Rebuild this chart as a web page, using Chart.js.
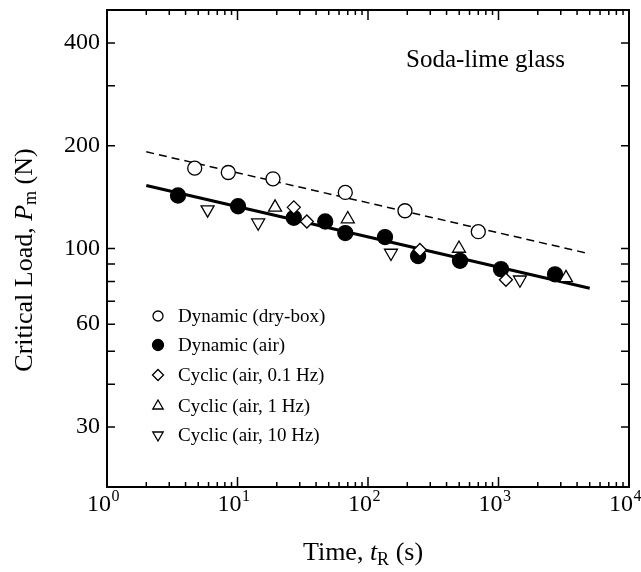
<!DOCTYPE html>
<html>
<head>
<meta charset="utf-8">
<script src="https://cdn.jsdelivr.net/npm/chart.js@4.4.0/dist/chart.umd.min.js"></script>
<style>
  body { margin: 0; background: #fff; }
  #wrap { width: 641px; height: 572px; }
</style>
</head>
<body>
<div id="wrap"><canvas id="myChart" width="641" height="572"></canvas></div>
<script>
// data (time in s, load in N)
const dryTime = [4.7, 8.5, 18.7, 67, 192, 700];
const dryLoad = [172, 167, 160, 146, 129, 112];

const airTime = [3.5, 10.1, 27, 47, 67, 135, 242, 507, 1045, 2710];
const airLoad = [143, 133, 123, 120, 111, 108, 95, 92, 87, 84];

const cyc01Time = [27, 34, 250, 1140];
const cyc01Load = [132, 120, 99, 81];

const cyc1Time = [19.4, 70, 498, 3290];
const cyc1Load = [132, 122, 100, 82];

const cyc10Time = [5.9, 14.4, 150, 1460];
const cyc10Load = [130, 119, 97, 81];

// fitted lines (end points)
const dryFitTime = [2, 5000];
const dryFitLoad = [192, 96.5];
const airFitTime = [2, 5000];
const airFitLoad = [153, 76.5];

const seriesNames = ['Dynamic (dry-box)', 'Dynamic (air)', 'Cyclic (air, 0.1 Hz)', 'Cyclic (air, 1 Hz)', 'Cyclic (air, 10 Hz)'];

const xTickValues = [1, 10, 100, 1000, 10000];
const xTickExps = ['0', '1', '2', '3', '4'];
const yTickValues = [30, 60, 100, 200, 400];
const yMinorTicks = [30, 40, 50, 60, 70, 80, 90, 100, 200, 300, 400];

const SERIF = '"Liberation Serif", "DejaVu Serif", serif';

function pts(xs, ys) {
    return xs.map((x, i) => ({ x: x, y: ys[i] }));
}

// marker styles, shared by the data and the legend
const markers = [
    { pointStyle: 'circle', rotation: 0, fill: '#fff', r: 7, lr: 5 },
    { pointStyle: 'circle', rotation: 0, fill: '#000', r: 7.5, lr: 5.5 },
    { pointStyle: 'rectRot', rotation: 0, fill: '#fff', r: 6.5, lr: 5.5 },
    { pointStyle: 'triangle', rotation: 0, fill: '#fff', r: 7.5, lr: 6 },
    { pointStyle: 'triangle', rotation: 180, fill: '#fff', r: 7.5, lr: 6 }
];

function markerSet(idx, data) {
    const m = markers[idx];
    return {
        label: seriesNames[idx],
        data: data,
        showLine: false,
        pointStyle: m.pointStyle,
        rotation: m.rotation,
        pointRadius: m.r,
        pointBackgroundColor: m.fill,
        pointBorderColor: '#000',
        pointBorderWidth: 1.3,
        order: 1
    };
}

// draw a row of text pieces (for italics and subscripts)
function drawRuns(ctx, runs, cx, y) {
    let w = 0;
    runs.forEach(r => { ctx.font = r.f; w += ctx.measureText(r.t).width; });
    let x = cx - w / 2;
    runs.forEach(r => {
        ctx.font = r.f;
        ctx.fillText(r.t, x, y + (r.dy || 0));
        x += ctx.measureText(r.t).width;
    });
}

// frame with inward ticks, legend and text
const framePlugin = {
    id: 'frame',
    afterDatasetsDraw(chart) {
        const ctx = chart.ctx;
        const a = chart.chartArea;
        const xs = chart.scales.x;
        const ys = chart.scales.y;
        ctx.save();
        ctx.strokeStyle = '#000';
        ctx.lineWidth = 2;
        ctx.strokeRect(a.left, a.top, a.right - a.left, a.bottom - a.top);

        ctx.lineWidth = 1.5;
        ctx.beginPath();
        // x ticks, top and bottom
        for (let d = 1; d < 10000; d *= 10) {
            for (let k = 1; k < 10; k++) {
                const px = xs.getPixelForValue(d * k);
                const len = k === 1 ? 10 : 5;
                ctx.moveTo(px, a.bottom); ctx.lineTo(px, a.bottom - len);
                ctx.moveTo(px, a.top); ctx.lineTo(px, a.top + len);
            }
        }
        // y ticks, left and right
        yMinorTicks.forEach(v => {
            const py = ys.getPixelForValue(v);
            ctx.moveTo(a.left, py); ctx.lineTo(a.left + 8, py);
            ctx.moveTo(a.right, py); ctx.lineTo(a.right - 8, py);
        });
        ctx.stroke();

        // x tick labels: 10 with superscript exponent
        ctx.fillStyle = '#000';
        ctx.textBaseline = 'alphabetic';
        ctx.textAlign = 'left';
        xTickValues.forEach((v, i) => {
            const px = xs.getPixelForValue(v);
            ctx.font = '24px ' + SERIF;
            const wBase = ctx.measureText('10').width;
            ctx.font = '16px ' + SERIF;
            const wExp = ctx.measureText(xTickExps[i]).width;
            const x0 = px - 4 - (wBase + wExp) / 2;
            ctx.font = '24px ' + SERIF;
            ctx.fillText('10', x0, a.bottom + 24);
            ctx.font = '16px ' + SERIF;
            ctx.fillText(xTickExps[i], x0 + wBase + 0.5, a.bottom + 14);
        });

        // legend
        const rowY = [316, 345, 375, 406, 435];
        ctx.textBaseline = 'middle';
        seriesNames.forEach((name, i) => {
            const m = markers[i];
            ctx.fillStyle = m.fill;
            ctx.strokeStyle = '#000';
            ctx.lineWidth = 1.3;
            Chart.helpers.drawPoint(ctx, { pointStyle: m.pointStyle, rotation: m.rotation, radius: m.lr, borderWidth: 1.3 }, 158, rowY[i]);
            ctx.fillStyle = '#000';
            ctx.font = '19px ' + SERIF;
            ctx.fillText(name, 178, rowY[i] + 1);
        });

        // material note
        ctx.textBaseline = 'alphabetic';
        ctx.font = '25px ' + SERIF;
        ctx.fillText('Soda-lime glass', 406, 67);

        // axis titles
        drawRuns(ctx, [
            { t: 'Time, ', f: '26px ' + SERIF },
            { t: 't', f: 'italic 26px ' + SERIF },
            { t: 'R', f: '18px ' + SERIF, dy: 5 },
            { t: ' (s)', f: '26px ' + SERIF }
        ], 363, 560);

        ctx.translate(25, 260);
        ctx.rotate(-Math.PI / 2);
        ctx.textBaseline = 'middle';
        drawRuns(ctx, [
            { t: 'Critical Load, ', f: '26px ' + SERIF },
            { t: 'P', f: 'italic 26px ' + SERIF },
            { t: 'm', f: '18px ' + SERIF, dy: 6 },
            { t: ' (N)', f: '26px ' + SERIF }
        ], 0, 0);
        ctx.restore();
    }
};

const ctx = document.getElementById('myChart').getContext('2d');
const myChart = new Chart(ctx, {
    type: 'scatter',
    data: {
        datasets: [
            {
                label: 'dry fit',
                data: pts(dryFitTime, dryFitLoad),
                showLine: true,
                borderColor: '#000',
                borderWidth: 1.5,
                borderDash: [8, 5],
                pointRadius: 0,
                order: 2
            },
            {
                label: 'air fit',
                data: pts(airFitTime, airFitLoad),
                showLine: true,
                borderColor: '#000',
                borderWidth: 3,
                pointRadius: 0,
                order: 2
            },
            markerSet(0, pts(dryTime, dryLoad)),
            markerSet(2, pts(cyc01Time, cyc01Load)),
            markerSet(3, pts(cyc1Time, cyc1Load)),
            markerSet(4, pts(cyc10Time, cyc10Load)),
            markerSet(1, pts(airTime, airLoad))
        ]
    },
    options: {
        responsive: false,
        animation: false,
        layout: { padding: { left: 0, right: 12, top: 10, bottom: 0 } },
        plugins: {
            legend: { display: false },
            tooltip: { enabled: false }
        },
        scales: {
            x: {
                type: 'logarithmic',
                min: 1,
                max: 10000,
                grid: { display: false, drawTicks: false },
                border: { display: false },
                afterBuildTicks: s => { s.ticks = xTickValues.map(v => ({ value: v })); },
                afterFit: s => { s.height = 85; s.paddingLeft = 0; s.paddingRight = 0; },
                ticks: { display: false }
            },
            y: {
                type: 'logarithmic',
                min: 20,
                max: 500,
                grid: { display: false, drawTicks: false },
                border: { display: false },
                afterBuildTicks: s => { s.ticks = yTickValues.map(v => ({ value: v })); },
                afterFit: s => { s.width = 107; s.paddingTop = 0; s.paddingBottom = 0; },
                ticks: {
                    autoSkip: false,
                    padding: 7,
                    color: '#000',
                    font: { family: SERIF, size: 24 },
                    callback: (v) => String(v)
                }
            }
        }
    },
    plugins: [framePlugin]
});
</script>
</body>
</html>
